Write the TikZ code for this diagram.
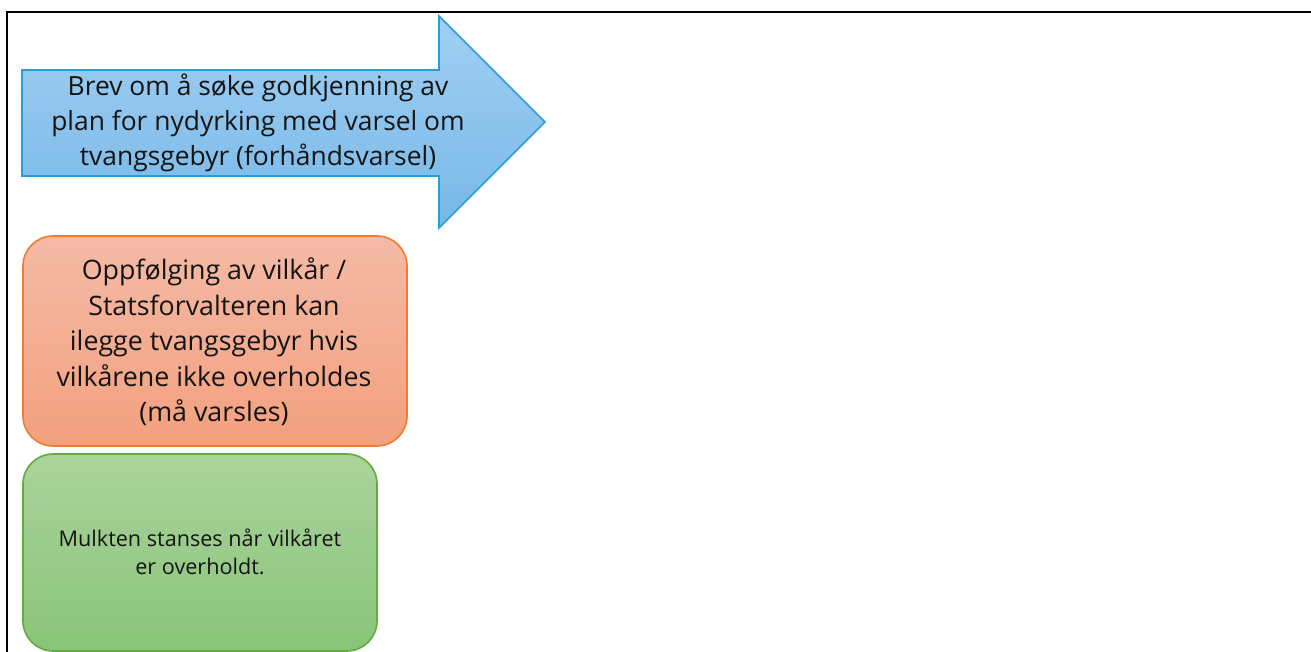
\documentclass[tikz,border=0pt]{standalone}
\usepackage{fontspec}
\setmainfont{Open Sans}
\definecolor{arrTop}{RGB}{162,207,242}
\definecolor{arrBot}{RGB}{118,184,232}
\definecolor{arrLine}{RGB}{40,158,214}
\definecolor{orTop}{RGB}{245,186,166}
\definecolor{orBot}{RGB}{243,160,126}
\definecolor{orLine}{RGB}{237,125,49}
\definecolor{grTop}{RGB}{170,211,156}
\definecolor{grBot}{RGB}{137,196,121}
\definecolor{grLine}{RGB}{98,172,62}
\tikzset{
  frameline/.style={line width=2pt, black},
  roundbox/.style={rounded corners=30pt, line width=1.6pt},
  boxtext/.style={align=center, inner sep=0pt, text=black!92},
}
\begin{document}
\begin{tikzpicture}[x=1pt, y=-1pt]
\useasboundingbox (0,0) rectangle (1311,652);
\draw[frameline] (7,652) -- (7,12) -- (1312,12);
% arrow
\path[draw=arrLine, line width=1.6pt, top color=arrTop, bottom color=arrBot, line join=miter]
  (22,70) -- (439,70) -- (439,16) -- (545,122) -- (439,228) -- (439,176) -- (22,176) -- cycle;
\node[boxtext, font=\fontsize{26.4}{35}\selectfont] (arrtext) at (258,123)
  {Brev om å søke godkjenning av\\plan for nydyrking med varsel om\\tvangsgebyr (forhåndsvarsel)};
% orange box
\path[roundbox, draw=orLine, top color=orTop, bottom color=orBot] (23,236) rectangle (407,446);
\node[boxtext, font=\fontsize{26.8}{35.5}\selectfont] (ortext) at (214,342)
  {Oppfølging av vilkår /\\Statsforvalteren kan\\ilegge tvangsgebyr hvis\\vilkårene ikke overholdes\\(må varsles)};
% green box
\path[roundbox, draw=grLine, top color=grTop, bottom color=grBot] (23,454) rectangle (377,651);
\node[boxtext, font=\fontsize{21.6}{28}\selectfont] (grtext) at (200,552)
  {Mulkten stanses når vilkåret\\er overholdt.};
\end{tikzpicture}
\end{document}
